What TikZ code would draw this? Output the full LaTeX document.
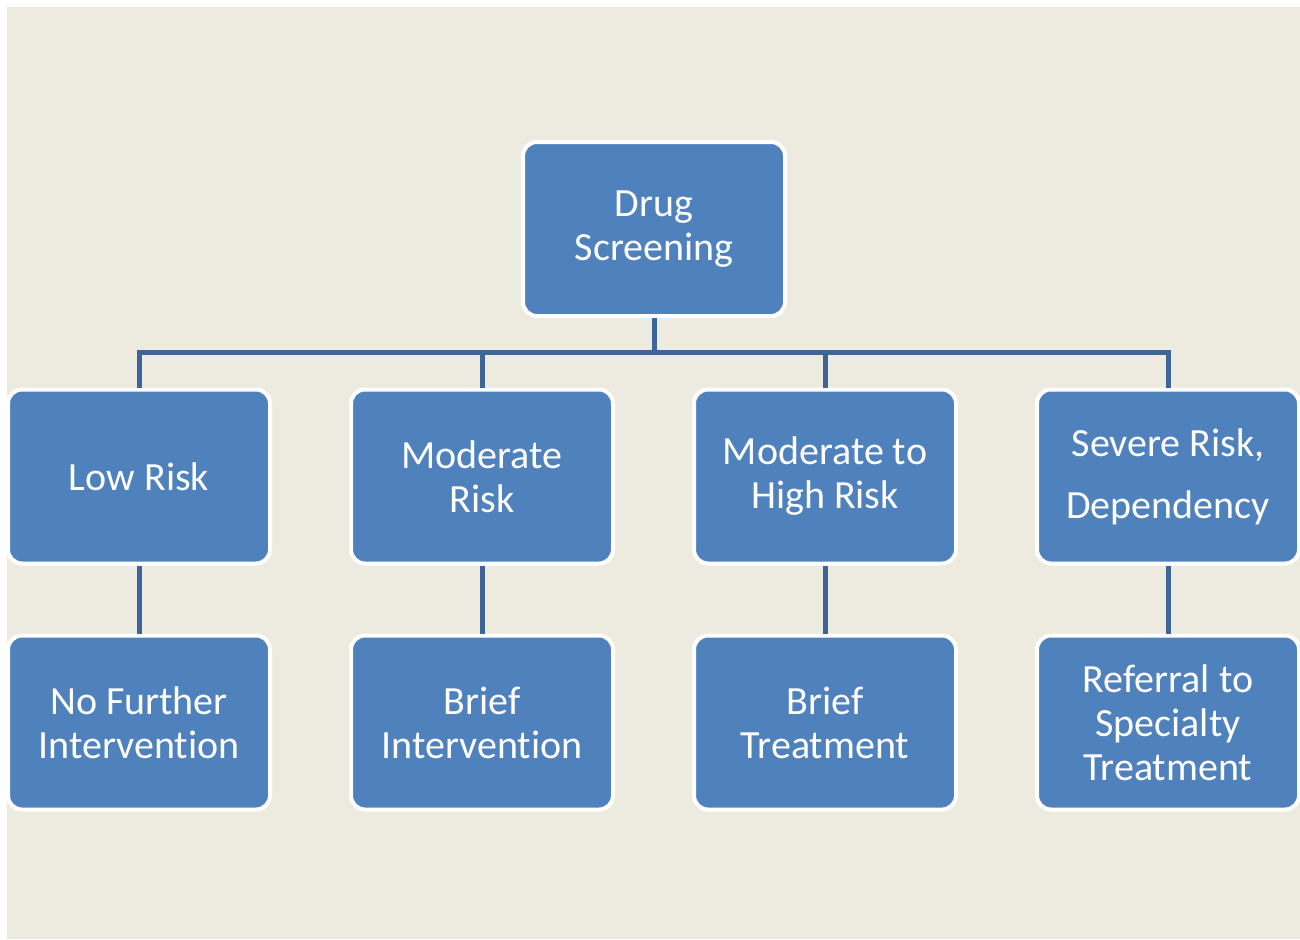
\documentclass[tikz,border=0pt]{standalone}
\usepackage{fontspec}
\setmainfont{Carlito}[Ligatures=NoCommon]
\definecolor{bg}{HTML}{EDEBE0}
\definecolor{boxblue}{HTML}{4F81BD}
\definecolor{connblue}{HTML}{3E6597}
\begin{document}
\begin{tikzpicture}[x=1pt,y=-1pt,
  box/.style={rectangle, rounded corners=14pt, fill=boxblue, draw=white, line width=4pt,
    minimum width=262pt, minimum height=174pt, text=white, align=center,
    font=\fontsize{40}{44}\selectfont},
  conn/.style={draw=connblue, line width=5pt}]
\useasboundingbox (0,0) rectangle (1300,939);
\fill[white] (0,0) rectangle (1300,939);
\fill[bg] (7,7) rectangle (1300,939);
\node[box] (top) at (654,229) {Drug\\Screening};
\node[box] (l1) at (139,476.5) {Low Risk};
\node[box] (l2) at (482,476.5) {Moderate\\Risk};
\node[box] (l3) at (825,476.5) {Moderate to\\High Risk};
\node[box, font=\fontsize{40}{62}\selectfont] (l4) at (1168,476.5) {Severe Risk,\\Dependency};
\node[box] (d1) at (139,722.5) {No Further\\Intervention};
\node[box] (d2) at (482,722.5) {Brief\\Intervention};
\node[box] (d3) at (825,722.5) {Brief\\Treatment};
\node[box] (d4) at (1168,722.5) {Referral to\\Specialty\\Treatment};
\coordinate (bus) at (654,352);
\draw[conn] (top.south) -- (bus);
\draw[conn] (l1.north) |- (bus) -| (l4.north);
\draw[conn] (l2.north) -- (l2.north |- bus);
\draw[conn] (l3.north) -- (l3.north |- bus);
\draw[conn] (l1.south) -- (d1.north);
\draw[conn] (l2.south) -- (d2.north);
\draw[conn] (l3.south) -- (d3.north);
\draw[conn] (l4.south) -- (d4.north);
\end{tikzpicture}
\end{document}
